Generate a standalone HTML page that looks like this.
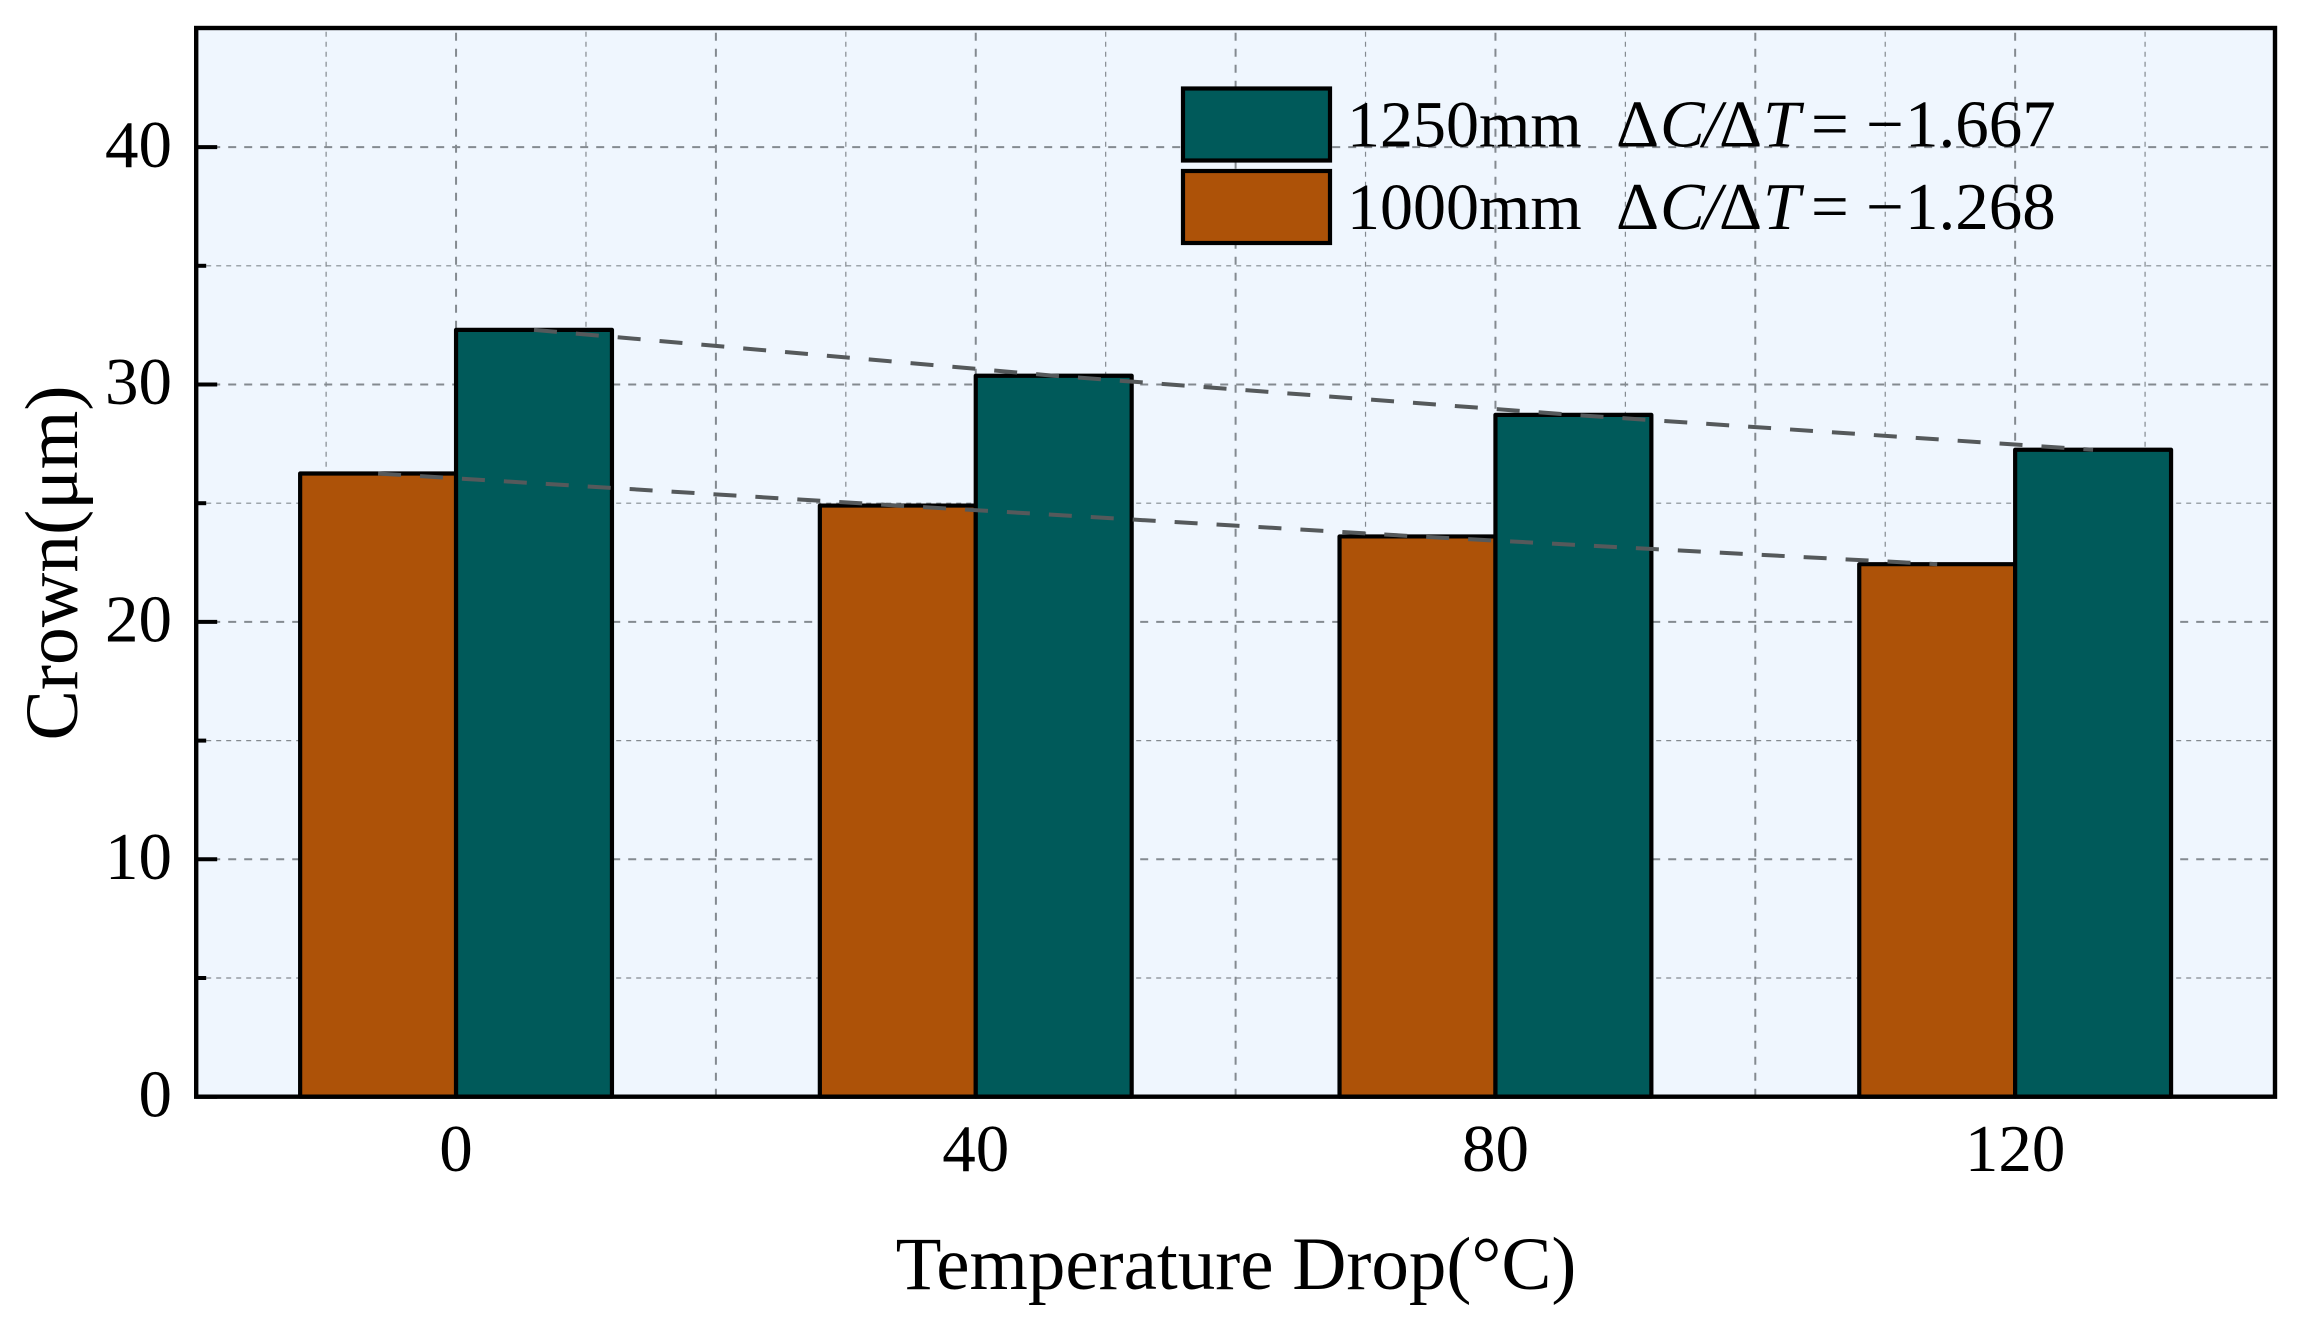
<!DOCTYPE html>
<html>
<head>
<meta charset="utf-8">
<title>Crown vs Temperature Drop</title>
<style>
html,body{margin:0;padding:0;background:#fff;width:2298px;height:1332px;overflow:hidden}
svg{display:block}
text{font-family:"Liberation Serif","DejaVu Serif",serif;fill:#000}
</style>
</head>
<body>
<svg id="chart" xmlns="http://www.w3.org/2000/svg" width="2298" height="1332" viewBox="0 0 2298 1332">
  <rect x="196" y="28" width="2079" height="1069" fill="#eff6fe"/>
  <g id="grid"></g>
  <g id="bars"></g>
  <g id="trends"></g>
  <rect x="196.2" y="28" width="2078.8" height="1068.7" fill="none" stroke="#000" stroke-width="4.4"/>
  <g id="ticks"></g>
  <g id="labels" font-size="67"></g>
  <text x="1236" y="1289" font-size="75" text-anchor="middle">Temperature Drop(°C)</text>
  <text transform="translate(77 563) rotate(-90)" font-size="75.5" text-anchor="middle">Crown(μm)</text>
  <g>
    <rect x="1183" y="88.5" width="147" height="72" fill="#005a5a" stroke="#000" stroke-width="4.2"/>
    <rect x="1183" y="171" width="147" height="72" fill="#ad5208" stroke="#000" stroke-width="4.2"/>
    <text y="146.5" font-size="66"><tspan x="1347">1250mm</tspan><tspan x="1616" font-size="67">Δ</tspan><tspan x="1660" font-size="67" font-style="italic">C</tspan><tspan x="1703" font-size="67" font-style="italic">/</tspan><tspan x="1719" font-size="67">Δ</tspan><tspan x="1763" font-size="67" font-style="italic">T</tspan><tspan x="1811" font-size="67">=</tspan><tspan x="1866" font-size="67">−</tspan><tspan x="1905" font-size="67">1.667</tspan></text>
    <text y="229" font-size="66"><tspan x="1347">1000mm</tspan><tspan x="1616" font-size="67">Δ</tspan><tspan x="1660" font-size="67" font-style="italic">C</tspan><tspan x="1703" font-size="67" font-style="italic">/</tspan><tspan x="1719" font-size="67">Δ</tspan><tspan x="1763" font-size="67" font-style="italic">T</tspan><tspan x="1811" font-size="67">=</tspan><tspan x="1866" font-size="67">−</tspan><tspan x="1905" font-size="67">1.268</tspan></text>
  </g>
</svg>
<script>
const categories = [0, 40, 80, 120];
const categoryLabels = ["0", "40", "80", "120"];
const series1000 = [26.25, 24.9, 23.6, 22.43];
const series1250 = [32.3, 30.37, 28.72, 27.25];
const yMajorTicks = [0, 10, 20, 30, 40];
const yTickLabels = ["0", "10", "20", "30", "40"];
const yMinorTicks = [5, 15, 25, 35];
const xMajorGrid = [0, 20, 40, 60, 80, 100, 120];
const xMinorGrid = [-10, 10, 30, 50, 70, 90, 110, 130];
const xDomain = [-20, 140];
const yDomain = [0, 45];
const barSpan = 12;

const NS = 'http://www.w3.org/2000/svg';
const L = 196.2, R = 2275, B = 1096.7, T = 28.4;
function xScale(v) { return L + (v - xDomain[0]) / (xDomain[1] - xDomain[0]) * (R - L); }
function yScale(v) { return B - (v - yDomain[0]) / (yDomain[1] - yDomain[0]) * (B - T); }
function make(tag, parentId, attrs) {
  const el = document.createElementNS(NS, tag);
  for (const k in attrs) el.setAttribute(k, attrs[k]);
  document.getElementById(parentId).appendChild(el);
  return el;
}
function gridStyle(major) {
  return { stroke: '#848a90', 'stroke-width': major ? 2 : 1.2, 'stroke-dasharray': major ? '8 8' : '5 5', fill: 'none' };
}

yMinorTicks.forEach(function (v) {
  const el = make('line', 'grid', Object.assign({ x1: L, x2: R, y1: yScale(v), y2: yScale(v) }, gridStyle(false)));
  
  
});
yMajorTicks.slice(1).forEach(function (v) {
  const el = make('line', 'grid', Object.assign({ x1: L, x2: R, y1: yScale(v), y2: yScale(v) }, gridStyle(true)));
  
  
});
xMinorGrid.forEach(function (v) {
  const el = make('line', 'grid', Object.assign({ x1: xScale(v), x2: xScale(v), y1: B, y2: T }, gridStyle(false)));
  
  
});
xMajorGrid.forEach(function (v) {
  const el = make('line', 'grid', Object.assign({ x1: xScale(v), x2: xScale(v), y1: B, y2: T }, gridStyle(true)));
  
  
});

categories.forEach(function (c, i) {
  const h1000 = yScale(series1000[i]);
  const bar1 = make('rect', 'bars', { x: xScale(c - barSpan), y: h1000, width: xScale(c) - xScale(c - barSpan), height: B - h1000, fill: '#ad5208', stroke: '#000', 'stroke-width': 4.2, 'stroke-linejoin': 'round' });
  
  
  const h1250 = yScale(series1250[i]);
  const bar2 = make('rect', 'bars', { x: xScale(c), y: h1250, width: xScale(c + barSpan) - xScale(c), height: B - h1250, fill: '#005a5a', stroke: '#000', 'stroke-width': 4.2, 'stroke-linejoin': 'round' });
  
  
});

function trendPoints(values, offset) {
  return categories.map(function (c, i) { return xScale(c + offset) + ',' + yScale(values[i]); }).join(' ');
}
const trend1000 = make('polyline', 'trends', { points: trendPoints(series1000, -barSpan / 2), fill: 'none', stroke: '#55595b', 'stroke-width': 4, 'stroke-dasharray': '23 19' });


const trend1250 = make('polyline', 'trends', { points: trendPoints(series1250, barSpan / 2), fill: 'none', stroke: '#55595b', 'stroke-width': 4, 'stroke-dasharray': '23 19' });



yMajorTicks.forEach(function (v, i) {
  const tick = make('line', 'ticks', { x1: L, x2: L + 21, y1: yScale(v), y2: yScale(v), stroke: '#000', 'stroke-width': 4 });
  
  
  const label = make('text', 'labels', { x: 172, y: yScale(v) + 19.7, 'text-anchor': 'end' });
  label.textContent = yTickLabels[i];
  
  
});
yMinorTicks.forEach(function (v) {
  const tick = make('line', 'ticks', { x1: L, x2: L + 10, y1: yScale(v), y2: yScale(v), stroke: '#000', 'stroke-width': 4 });
  
  
});
categories.forEach(function (c, i) {
  const label = make('text', 'labels', { x: xScale(c), y: 1171, 'text-anchor': 'middle' });
  label.textContent = categoryLabels[i];
  
  
});
</script>
</body>
</html>
